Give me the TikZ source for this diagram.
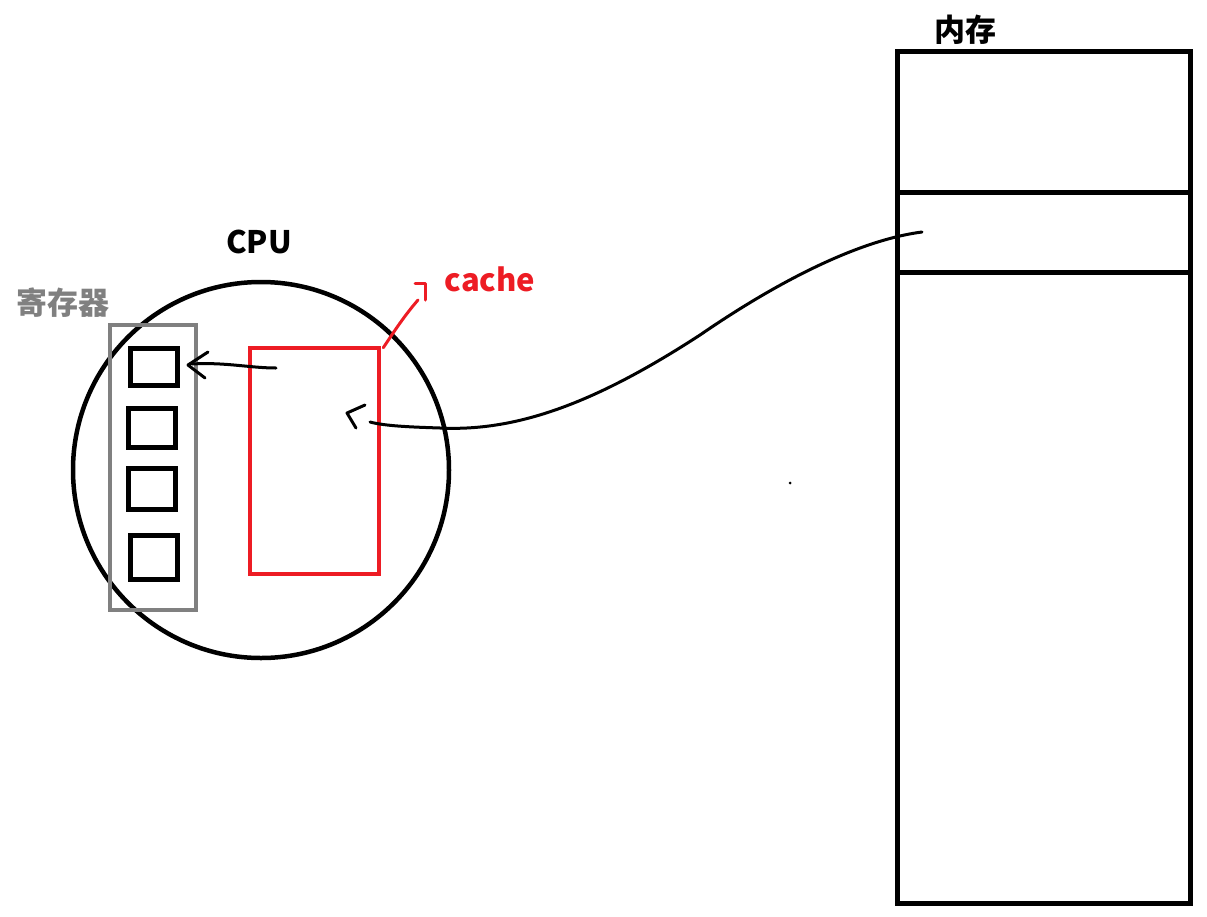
\documentclass[tikz,border=0pt]{standalone}
\usepackage{fontspec}
\newfontfamily\cjk{Noto Sans CJK SC}
\usetikzlibrary{calc}
\definecolor{cachered}{RGB}{237,28,36}
\definecolor{reggray}{RGB}{128,128,128}
\tikzset{
  thick line/.style={line width=4.5pt},
  label text/.style={font=\cjk\bfseries\fontsize{31}{33}\selectfont, inner sep=0pt},
  regbox/.style={draw=black, line width=5pt, inner sep=0pt},
  hand/.style={line width=3pt, line cap=round, line join=round},
}
\begin{document}
\begin{tikzpicture}[x=1pt,y=-1pt]
\useasboundingbox (0,0) rectangle (1207,916);
% CPU
\node[draw=black, thick line, circle, minimum size=376pt, inner sep=0pt] (cpu) at (261,470) {};
\node[label text] (cputext) at (259,242) {CPU};
% registers
\node[label text, text=reggray] (regtext) at (63,303) {寄存器};
\draw[reggray, thick line] (110,325) rectangle (196,610);
\node[regbox, minimum width=47pt, minimum height=37pt] (r1) at (154,367) {};
\node[regbox, minimum width=47pt, minimum height=39pt] (r2) at (152,428) {};
\node[regbox, minimum width=47pt, minimum height=41pt] (r3) at (152,489) {};
\node[regbox, minimum width=47pt, minimum height=44pt] (r4) at (154,557) {};
% cache
\node[draw=cachered, thick line, minimum width=129pt, minimum height=226pt, inner sep=0pt] (cache) at (314.5,461) {};
\node[label text, text=cachered] (cachetext) at (490,279) {cache};
\draw[cachered, hand] (cache.north east) ++(2,2) .. controls (395,330) and (405,315) .. (418,300);
\draw[cachered, hand] (415,283) -- (425,283) -- (425,300);
% memory
\draw[black, line width=5pt] (897,51) rectangle (1190,903);
\coordinate (m1) at (897,192);
\coordinate (m1e) at (1190,192);
\coordinate (m2) at (897,272);
\coordinate (m2e) at (1190,272);
\draw[black, line width=5pt] (m1) -- (m1e);
\draw[black, line width=5pt] (m2) -- (m2e);
\node[label text] (memtext) at (965,30) {内存};
\coordinate (memcell) at (922,232);
% arrow memory -> cache
\coordinate (cachein) at (370,422);
\draw[hand] (memcell) .. controls (860,240) and (780,280) .. (700,335)
  .. controls (600,400) and (520,432) .. (440,428)
  .. controls (410,427) and (385,426) .. (cachein);
\draw[hand] (365,405) -- (347,413) -- (356,428);
% arrow cache -> register
\coordinate (cachepoint) at (276,368);
\draw[hand] (cachepoint) .. controls (250,368) and (225,362) .. (192,364);
\draw[hand] (208,352) -- (188,365) -- (205,378);
% dot
\fill (790,483) circle (1.5pt);
\end{tikzpicture}
\end{document}
